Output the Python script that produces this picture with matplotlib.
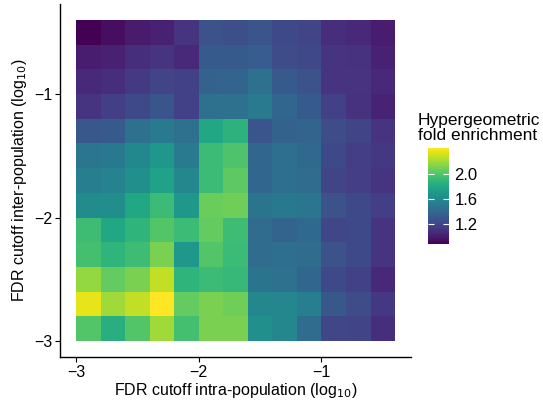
import numpy as np
import matplotlib
matplotlib.use("Agg")
import matplotlib.pyplot as plt

plt.rcParams["font.family"] = ["Liberation Sans", "DejaVu Sans"]

# cell lower edges (log10 FDR cutoffs), 0.2 steps
x_cutoffs = np.round(np.arange(-3.0, -0.5, 0.2), 1)
y_cutoffs = np.round(np.arange(-3.0, -0.5, 0.2), 1)

# fold enrichment, rows from y = -3.0 (bottom) to y = -0.6 (top)
fold = [
    [2.00, 1.85, 2.00, 2.20, 1.96, 2.11, 2.11, 1.65, 1.59, 1.42, 1.20, 1.19, 1.08],
    [2.36, 2.20, 2.27, 2.42, 2.05, 2.11, 2.08, 1.59, 1.59, 1.53, 1.30, 1.23, 1.13],
    [2.17, 2.05, 2.11, 2.27, 1.88, 1.93, 1.91, 1.47, 1.45, 1.39, 1.22, 1.17, 1.06],
    [1.96, 1.88, 1.94, 2.11, 1.70, 2.00, 1.93, 1.42, 1.43, 1.42, 1.27, 1.22, 1.11],
    [1.94, 1.80, 1.88, 2.00, 1.93, 2.05, 1.94, 1.42, 1.37, 1.40, 1.20, 1.22, 1.11],
    [1.62, 1.63, 1.80, 1.93, 1.70, 2.07, 2.08, 1.47, 1.50, 1.48, 1.27, 1.22, 1.16],
    [1.53, 1.56, 1.65, 1.77, 1.59, 1.93, 2.04, 1.39, 1.43, 1.42, 1.19, 1.16, 1.11],
    [1.48, 1.50, 1.60, 1.70, 1.51, 1.93, 1.99, 1.39, 1.43, 1.40, 1.22, 1.16, 1.13],
    [1.30, 1.31, 1.45, 1.51, 1.45, 1.80, 1.87, 1.28, 1.36, 1.37, 1.23, 1.19, 1.11],
    [1.11, 1.16, 1.22, 1.28, 1.17, 1.45, 1.45, 1.51, 1.39, 1.31, 1.17, 1.10, 1.03],
    [1.05, 1.08, 1.14, 1.19, 1.17, 1.36, 1.37, 1.45, 1.31, 1.27, 1.11, 1.11, 1.05],
    [1.00, 1.02, 1.08, 1.11, 1.06, 1.31, 1.31, 1.33, 1.23, 1.22, 1.11, 1.10, 1.02],
    [0.88, 0.93, 0.99, 1.02, 1.11, 1.27, 1.25, 1.28, 1.22, 1.19, 1.08, 1.05, 1.00],
]
cbar_ticks = [1.2, 1.6, 2.0]

fold = np.array(fold)
step = 0.2
x_edges = np.append(x_cutoffs, x_cutoffs[-1] + step)
y_edges = np.append(y_cutoffs, y_cutoffs[-1] + step)

W, H = 543, 401
fig = plt.figure(figsize=(W / 100, H / 100), dpi=100)
ax = fig.add_axes([60 / W, 1 - 357 / H, 351 / W, 353 / H])

mesh = ax.pcolormesh(x_edges, y_edges, fold, cmap="viridis",
                     vmin=fold.min(), vmax=fold.max())

span = x_edges[-1] - x_edges[0]
ax.set_xlim(x_edges[0] - 0.05 * span, x_edges[-1] + 0.05 * span)
ax.set_ylim(y_edges[0] - 0.05 * span, y_edges[-1] + 0.05 * span)
ax.set_xticks([-3, -2, -1])
ax.set_yticks([-3, -2, -1])
ax.set_xticklabels(["\u22123", "\u22122", "\u22121"])
ax.set_yticklabels(["\u22123", "\u22122", "\u22121"])
for s in ["top", "right"]:
    ax.spines[s].set_visible(False)
for s in ["left", "bottom"]:
    ax.spines[s].set_linewidth(1.0)
ax.tick_params(length=3.5, width=0.8, labelsize=11.5, colors="black", pad=2)
ax.set_xlabel("FDR cutoff intra-population (log$_{10}$)", fontsize=11.5, labelpad=1)
ax.set_ylabel("FDR cutoff inter-population (log$_{10}$)", fontsize=11.5, labelpad=4)

# colorbar
cax = fig.add_axes([428 / W, 1 - 244 / H, 21 / W, 96 / H])
cb = fig.colorbar(mesh, cax=cax, ticks=cbar_ticks)
cb.outline.set_visible(False)
cb.ax.tick_params(direction="in", length=4, width=0.8, color="white",
                  labelsize=12, pad=4, left=True, right=True)
cb.ax.set_yticklabels(["%.1f" % t for t in cbar_ticks])
fig.text(418 / W, 1 - 143 / H, "Hypergeometric\nfold enrichment",
         fontsize=12.5, ha="left", va="bottom", linespacing=1.0)

fig.savefig("out.png", dpi=100)
